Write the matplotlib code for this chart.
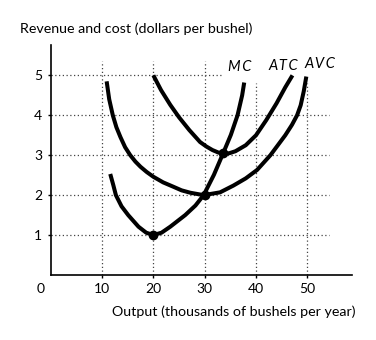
import matplotlib
matplotlib.use("Agg")
import matplotlib.pyplot as plt

plt.rcParams['font.family'] = ['Lato', 'DejaVu Sans']

# curves (output in thousands, dollars per bushel)
mc_x = [11.6, 12.2, 12.7, 13.8, 15.1, 17.1, 18.6, 20.0, 21.6, 23.3, 26.2, 28.2,
        29.8, 31.8, 33.6, 35.1, 36.4, 37.3, 37.7]
mc_y = [2.53, 2.25, 2.0, 1.72, 1.5, 1.21, 1.06, 1.0, 1.06, 1.21, 1.5, 1.74,
        2.0, 2.51, 3.05, 3.51, 4.0, 4.5, 4.82]

atc_x = [20.0, 21.5, 23.3, 25.0, 27.0, 29.1, 30.3, 31.5, 32.6, 33.6, 34.8,
         36.0, 38.0, 40.0, 42.0, 44.0, 45.7, 47.1]
atc_y = [5.0, 4.63, 4.26, 3.95, 3.63, 3.33, 3.22, 3.13, 3.07, 3.04, 3.05,
         3.1, 3.25, 3.5, 3.88, 4.3, 4.7, 5.0]

avc_x = [10.9, 11.4, 12.1, 12.8, 13.6, 14.5, 15.5, 16.5, 17.5, 18.7, 20.0,
         21.9, 23.9, 25.5, 27.2, 29.8, 33.0, 35.6, 38.0, 40.2, 42.8, 45.7,
         47.0, 48.0, 48.7, 49.3, 49.8]
avc_y = [4.85, 4.4, 4.0, 3.7, 3.45, 3.2, 3.0, 2.84, 2.71, 2.58, 2.46,
         2.32, 2.21, 2.12, 2.06, 2.0, 2.07, 2.24, 2.42, 2.63, 3.0, 3.5,
         3.76, 4.0, 4.25, 4.6, 4.97]

dots_x = [20, 30, 33.6]
dots_y = [1, 2, 3.05]

x_ticks = [10, 20, 30, 40, 50]
y_ticks = [1, 2, 3, 4, 5]

curve_names = ["MC", "ATC", "AVC"]
name_x = [36.9, 45.4, 52.5]
name_y = [5.22, 5.24, 5.29]

fig = plt.figure(figsize=(3.76, 3.40), dpi=100)
ax = fig.add_axes([50.7 / 376, 65 / 340, 301.3 / 376, 230 / 340])
ax.set_xlim(0, 58.7)
ax.set_ylim(0, 5.76)

dot_style = dict(color="#444444", linestyle=(0, (1, 2)), linewidth=0.9, zorder=1)
# horizontal guide lines
for yv in y_ticks:
    x_end = 33.6 if yv == 5 else 54.2
    ax.plot([0, x_end], [yv, yv], **dot_style)
# vertical guide lines
for xv in x_ticks:
    y_end = 5.35 if xv <= 30 else 4.82
    ax.plot([xv, xv], [0, y_end], **dot_style)

for xs, ys in [(mc_x, mc_y), (atc_x, atc_y), (avc_x, avc_y)]:
    ax.plot(xs, ys, color="black", linewidth=2.9, solid_capstyle="butt",
            solid_joinstyle="round", zorder=3)

ax.plot(dots_x, dots_y, "o", color="black", markersize=6, zorder=4)

for name, nx, ny in zip(curve_names, name_x, name_y):
    ax.text(nx, ny, "\u2009".join(name), fontsize=10.5, style="italic",
            ha="center", va="center")

for side in ["top", "right"]:
    ax.spines[side].set_visible(False)
for side in ["left", "bottom"]:
    ax.spines[side].set_linewidth(1.2)

ax.set_xticks(x_ticks)
ax.set_yticks(y_ticks)
ax.tick_params(direction="out", length=2.5, width=1, labelsize=10, pad=3.5)

ax.annotate("0", xy=(0, 0), xytext=(-10, -14), textcoords="offset pixels",
            ha="center", va="center", fontsize=10)

fig.text(20.5 / 376, 1 - 29 / 340, "Revenue and cost (dollars per bushel)",
         fontsize=10.3, ha="left", va="center")
fig.text(355 / 376, 1 - 311.5 / 340, "Output (thousands of bushels per year)",
         fontsize=10.3, ha="right", va="center")

fig.savefig("out.png", dpi=100)
